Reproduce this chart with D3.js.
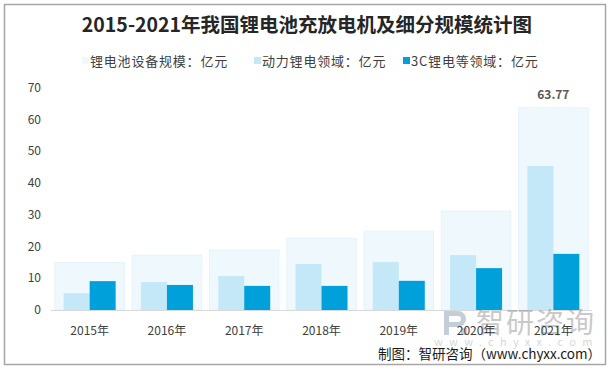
<!DOCTYPE html>
<html>
<head>
<meta charset="utf-8">
<script src="https://cdn.jsdelivr.net/npm/d3@7"></script>
<style>
  body { margin: 0; background: #fff; }
  svg { display: block; font-family: "Noto Sans CJK SC", "Noto Sans", sans-serif; }
</style>
</head>
<body>
<div id="chart"></div>
<script>
var years = ['2015年','2016年','2017年','2018年','2019年','2020年','2021年']
var totalVals = [15.0, 17.3, 18.9, 22.6, 24.9, 31.2, 63.77]
var powerVals = [5.3, 8.8, 10.7, 14.5, 15.1, 17.3, 45.4]
var c3Vals = [9.1, 7.9, 7.6, 7.6, 9.2, 13.2, 17.7]
var yTicks = [0, 10, 20, 30, 40, 50, 60, 70]
var legendNames = ['锂电池设备规模：亿元', '动力锂电领域：亿元', '3C锂电等领域：亿元']

var width = 616, height = 371
var colTotal = '#eff8fd', colPower = '#c5e8f8', colC3 = '#00a0da'

var svg = d3.select('#chart').append('svg')
    .attr('width', width).attr('height', height)

svg.append('rect')
    .attr('x', 4.5).attr('y', 4.5)
    .attr('width', 601).attr('height', 360)
    .attr('fill', '#fff').attr('stroke', '#a6a6a6').attr('stroke-width', 1.5)

svg.append('text')
    .attr('x', 307).attr('y', 32)
    .attr('text-anchor', 'middle')
    .style('font-size', '19.5px').style('font-weight', 'bold')
    .attr('fill', '#262626')
    .text('2015-2021年我国锂电池充放电机及细分规模统计图')

var x = d3.scaleBand().domain(years).range([51, 592]).paddingInner(0.1).paddingOuter(0.05)
var y = d3.scaleLinear().domain([0, 70]).range([310, 88])
var sub = d3.scaleBand().domain(['p','c']).range([0, 52])

// legend
var legX = [82, 254, 403]
var legColors = [colTotal, colPower, colC3]
var leg = svg.append('g')
legendNames.forEach(function (name, i) {
    leg.append('rect').attr('x', legX[i]).attr('y', 57).attr('width', 7).attr('height', 7)
        .attr('fill', legColors[i])
    leg.append('text').attr('x', legX[i] + 8).attr('y', 66)
        .style('font-size', '13px').attr('fill', '#404040')
        .attr('letter-spacing', '0.8px')
        .text(name)
})

// y axis labels
svg.append('g').selectAll('text').data(yTicks).join('text')
    .attr('x', 41).attr('y', d => y(d) + 4)
    .attr('text-anchor', 'end')
    .style('font-size', '12px').attr('fill', '#404040')
    .text(d => d)

// total bars
svg.append('g').selectAll('rect').data(totalVals).join('rect')
    .attr('x', (d, i) => x(years[i]))
    .attr('y', d => y(d))
    .attr('width', x.bandwidth())
    .attr('height', d => y(0) - y(d))
    .attr('fill', colTotal).attr('stroke', '#e6f3fb').attr('stroke-width', 1)

var off = (x.bandwidth() - 52) / 2
svg.append('g').selectAll('rect').data(powerVals).join('rect')
    .attr('x', (d, i) => x(years[i]) + off + sub('p'))
    .attr('y', d => y(d))
    .attr('width', sub.bandwidth())
    .attr('height', d => y(0) - y(d))
    .attr('fill', colPower)

svg.append('g').selectAll('rect').data(c3Vals).join('rect')
    .attr('x', (d, i) => x(years[i]) + off + sub('c'))
    .attr('y', d => y(d))
    .attr('width', sub.bandwidth())
    .attr('height', d => y(0) - y(d))
    .attr('fill', colC3)

// baseline
svg.append('line')
    .attr('x1', 51).attr('x2', 592).attr('y1', y(0) + 0.5).attr('y2', y(0) + 0.5)
    .attr('stroke', '#d9d9d9')

// label for last total
svg.append('text')
    .attr('x', x(years[6]) + x.bandwidth() / 2).attr('y', y(totalVals[6]) - 9)
    .attr('text-anchor', 'middle')
    .style('font-size', '12px').style('font-weight', 'bold').attr('fill', '#595959')
    .text(totalVals[6].toFixed(2))

// watermark
var wm = svg.append('g').attr('opacity', 0.4)
wm.append('path')
    .attr('d', 'M444,311 h14 a8,8 0 0 1 0,16 h-9 v8 h-5 z M449,316 v6 h9 a3,3 0 0 0 0,-6 z M461,328 h6 v7 h-6 z')
    .attr('fill', '#6f83a3').attr('fill-rule', 'evenodd')
wm.append('text').attr('x', 476).attr('y', 333)
    .style('font-size', '28px').attr('fill', '#7a7a7a').attr('letter-spacing', '2px')
    .text('智研咨询')
wm.append('text').attr('x', 434).attr('y', 346)
    .style('font-size', '11px').attr('fill', '#9a9a9a').attr('letter-spacing', '6.3px')
    .text('www.chyxx.com')

// x labels
svg.append('g').selectAll('text').data(years).join('text')
    .attr('x', d => x(d) + x.bandwidth() / 2).attr('y', 335)
    .attr('text-anchor', 'middle')
    .style('font-size', '12px').attr('fill', '#404040')
    .text(d => d)

svg.append('text')
    .attr('x', 601).attr('y', 359)
    .attr('text-anchor', 'end')
    .style('font-size', '13.5px').attr('fill', '#1a1a1a')
    .text('制图：智研咨询（www.chyxx.com）')
</script>
</body>
</html>
